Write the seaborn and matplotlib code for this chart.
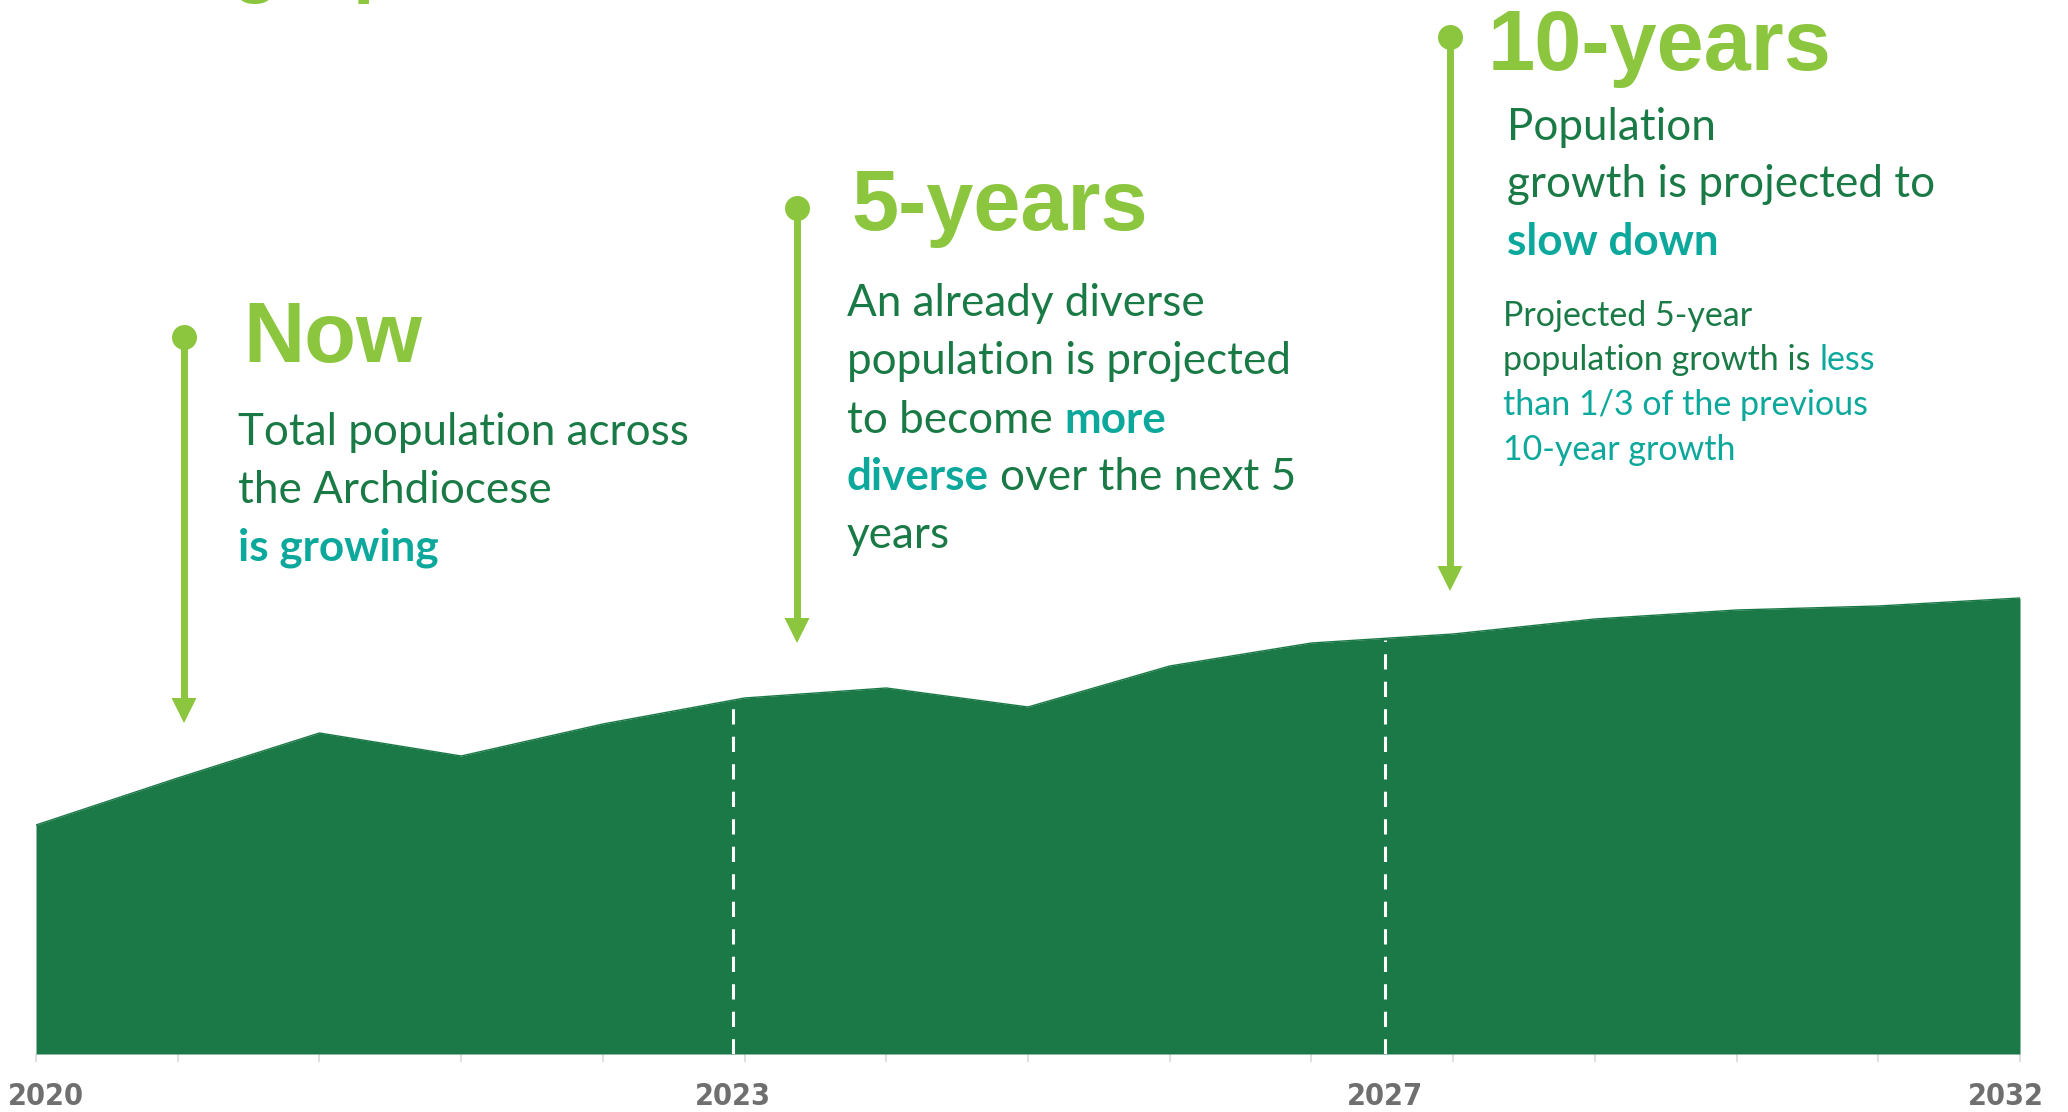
import numpy as np
import pandas as pd
import matplotlib
matplotlib.use('Agg')
import matplotlib.pyplot as plt
import seaborn as sns

# 数据 (从图上读取的人口走势, 15 个点, 2020-2032)
point_idx = list(range(15))
population = [229, 276, 321, 298, 330, 356, 366, 347, 388, 411, 420, 435, 444, 448, 456]
year_labels = ['2020', '2023', '2027', '2032']
year_label_pos = [0.07, 4.92, 9.52, 13.9]
milestone_pos = [4.92, 9.52]

# 颜色
DARK = '#1b7947'
LIGHT = '#8cc63f'
TEXT = '#1a7a46'
TEAL = '#0ba89b'
GRAY = '#6f6f6f'

W, H = 2068, 1112
BODY = ['Lato', 'DejaVu Sans']
HEAD = ['Liberation Sans', 'DejaVu Sans']
TICK = ['DejaVu Sans']

sns.set_theme(style='white')
plt.rcParams['font.family'] = BODY

df = pd.DataFrame({'idx': point_idx, 'population': population})

fig = plt.figure(figsize=(W / 100, H / 100), dpi=100)
ax = fig.add_axes([36 / W, 1 - 1054 / H, (2020 - 36) / W, 1054 / H])

# 面积图
sns.lineplot(data=df, x='idx', y='population', ax=ax, color=DARK, linewidth=1)
ax.fill_between(df['idx'], 0, df['population'], color=DARK, linewidth=0)

# 白色虚线
for m in milestone_pos:
    top = np.interp(m, df['idx'], df['population'])
    ax.vlines(m, 0, top - 2, colors='white', linestyles=(0, (5, 4)), linewidth=2.2)

ax.set_xlim(0, 14)
ax.set_ylim(0, 1054)
ax.set_xlabel('')
ax.set_ylabel('')
ax.set_yticks([])
ax.set_xticks(year_label_pos)
ax.set_xticklabels(year_labels)
ax.set_xticks(point_idx, minor=True)
ax.tick_params(axis='x', which='major', length=0, pad=20, labelsize=22, labelcolor=GRAY)
ax.tick_params(axis='x', which='minor', length=6, width=1.2, color='#d9d9d9', bottom=True)
for lab in ax.get_xticklabels():
    lab.set_family(TICK)
    lab.set_fontweight('bold')
    lab.set_fontstretch('condensed')
for s in ax.spines.values():
    s.set_visible(False)

# 注释层, 坐标为像素
ov = fig.add_axes([0, 0, 1, 1], zorder=5)
ov.set_xlim(0, W)
ov.set_ylim(H, 0)
ov.axis('off')
ov.patch.set_alpha(0)
renderer = fig.canvas.get_renderer()


def timeline_arrow(x, y_dot, y_tip):
    ov.plot([x, x], [y_dot, y_tip - 20], color=LIGHT, lw=5, solid_capstyle='butt')
    ov.plot(x, y_dot, 'o', ms=18, color=LIGHT, mec='none')
    ov.fill([x - 12.5, x + 12.5, x], [y_tip - 25, y_tip - 25, y_tip], color=LIGHT, lw=0)


def text_width(s, size, weight):
    t = ov.text(0, 0, s, fontsize=size, fontweight=weight, family=BODY)
    w = t.get_window_extent(renderer).width
    t.remove()
    return w


def rich_line(x, y, pieces, size):
    # pieces 之间用一个空格隔开
    for txt, color, weight in pieces:
        t = ov.text(x, y, txt, color=color, fontsize=size, fontweight=weight,
                    family=BODY, va='baseline', ha='left')
        bb = t.get_window_extent(renderer)
        x = ov.transData.inverted().transform((bb.x1, bb.y0))[0]
        x += text_width('a a', size, weight) - text_width('aa', size, weight)


def heading(x, y, txt):
    ov.text(x, y, txt, color=LIGHT, fontsize=61, fontweight='bold', family=HEAD,
            va='baseline', ha='left')


BODY_SIZE = 31.7
SMALL_SIZE = 24.5

# 被裁掉的标题
fig.text(16 / W, 1 + 12 / H, 'Demographic Trends', color=LIGHT, fontsize=56,
         fontweight='bold', family=HEAD, va='baseline', ha='left')

# Now
timeline_arrow(184, 337, 723)
heading(243, 362, 'Now')
rich_line(238, 445, [('Total population across', TEXT, 'normal')], BODY_SIZE)
rich_line(238, 503, [('the Archdiocese', TEXT, 'normal')], BODY_SIZE)
rich_line(238, 561, [('is growing', TEAL, 'bold')], BODY_SIZE)

# 5-years
timeline_arrow(797, 208, 643)
heading(851, 230, '5-years')
rich_line(847, 316, [('An already diverse', TEXT, 'normal')], BODY_SIZE)
rich_line(847, 374, [('population is projected', TEXT, 'normal')], BODY_SIZE)
rich_line(847, 433, [('to become', TEXT, 'normal'), ('more', TEAL, 'bold')], BODY_SIZE)
rich_line(847, 490, [('diverse', TEAL, 'bold'), ('over the next 5', TEXT, 'normal')], BODY_SIZE)
rich_line(847, 548, [('years', TEXT, 'normal')], BODY_SIZE)

# 10-years
timeline_arrow(1450, 37, 591)
heading(1488, 70, '10-years')
rich_line(1507, 140, [('Population', TEXT, 'normal')], BODY_SIZE)
rich_line(1507, 197, [('growth is projected to', TEXT, 'normal')], BODY_SIZE)
rich_line(1507, 255, [('slow down', TEAL, 'bold')], BODY_SIZE)
rich_line(1503, 326, [('Projected 5-year', TEXT, 'normal')], SMALL_SIZE)
rich_line(1503, 370, [('population growth is', TEXT, 'normal'), ('less', TEAL, 'normal')], SMALL_SIZE)
rich_line(1503, 415, [('than 1/3 of the previous', TEAL, 'normal')], SMALL_SIZE)
rich_line(1503, 460, [('10-year growth', TEAL, 'normal')], SMALL_SIZE)

fig.savefig('out.png', dpi=100)
